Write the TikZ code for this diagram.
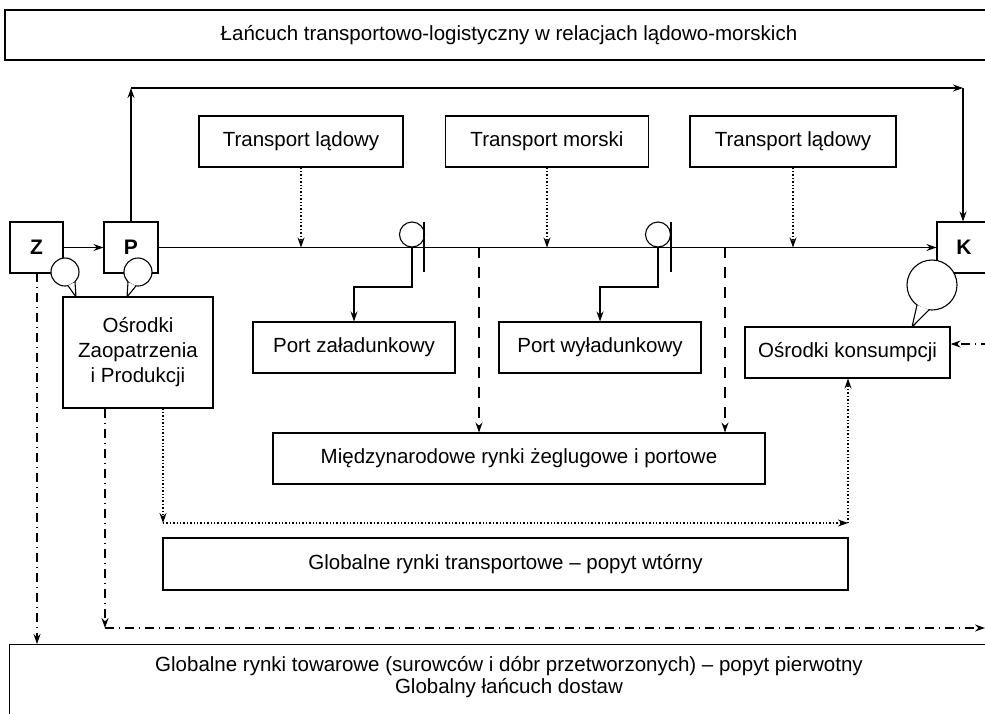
\documentclass[tikz,border=0pt]{standalone}
\usepackage{fontspec}
\setmainfont{Liberation Sans}
\usetikzlibrary{arrows.meta}
\begin{document}
\begin{tikzpicture}[x=1pt,y=-1pt,
  lw/.style={line width=1.1pt},
  box/.style={draw,lw,inner sep=0pt,align=center,font=\fontsize{20.5}{25}\selectfont},
  lbox/.style={box,font=\fontsize{21}{24}\selectfont\bfseries},
  arr/.style={lw,-{Stealth[length=10pt,width=7pt]}},
  dotl/.style={lw,dash pattern=on 1.4pt off 2pt},
  dashl/.style={lw,dash pattern=on 11pt off 9pt},
  ddot/.style={lw,dash pattern=on 9pt off 5pt on 1pt off 5pt},
  bub/.style={draw,lw,fill=white}]
\useasboundingbox (0,0) rectangle (985,713);
\clip (0,0) rectangle (985,713);
% title box
\node[box,minimum width=1008pt,minimum height=50pt] (title) at (509,35) {Łańcuch transportowo-logistyczny w relacjach lądowo-morskich};
% Z P K
\node[lbox,minimum width=53pt,minimum height=51pt] (Z) at (36.5,247.5) {Z};
\node[lbox,minimum width=54pt,minimum height=51pt] (P) at (131,247.5) {P};
\node[lbox,minimum width=54pt,minimum height=51pt] (K) at (964,247.5) {K};
% transport boxes
\node[box,minimum width=204pt,minimum height=51pt] (tl1) at (301,141.5) {Transport lądowy};
\node[box,minimum width=203pt,minimum height=51pt] (tm) at (547,141.5) {Transport morski};
\node[box,minimum width=206pt,minimum height=51pt] (tl2) at (793,141.5) {Transport lądowy};
% other boxes
\node[box,minimum width=150pt,minimum height=111pt] (oz) at (138,352.5) {Ośrodki\\Zaopatrzenia\\i Produkcji};
\node[box,minimum width=202pt,minimum height=51pt] (pz) at (354,347.5) {Port załadunkowy};
\node[box,minimum width=202pt,minimum height=51pt] (pw) at (600,347.5) {Port wyładunkowy};
\node[box,minimum width=205pt,minimum height=51pt] (ok) at (847.5,352.5) {Ośrodki konsumpcji};
\node[box,minimum width=492pt,minimum height=51pt] (mr) at (519,458.5) {Międzynarodowe rynki żeglugowe i portowe};
\node[box,minimum width=685pt,minimum height=52pt] (grt) at (505.5,564) {Globalne rynki transportowe -- popyt wtórny};
\node[draw,lw,minimum width=1000pt,minimum height=120pt,anchor=north west] (gb) at (9,644) {};
\node[font=\fontsize{20.5}{22}\selectfont,align=center,inner sep=0pt] (gbt) at (509,677) {Globalne rynki towarowe (surowców i dóbr przetworzonych) -- popyt pierwotny\\Globalny łańcuch dostaw};
% main flows
\draw[arr] (Z) -- (P);
\draw[arr] (P.east) -- (K.west);
\coordinate (c1) at (131,88);
\coordinate (c2) at (963,88);
\draw[arr] (P.north) -- (c1);
\draw[arr] (c1) -- (c2);
\draw[arr] (c2) -- (c2 |- K.north);
% transport dotted arrows
\draw[arr,dotl] (tl1.south) -- (tl1.south |- P.east);
\draw[arr,dotl] (tm.south) -- (tm.south |- P.east);
\draw[arr,dotl] (tl2.south) -- (tl2.south |- P.east);
% ports
\coordinate (pc1) at (412,247);
\coordinate (pc2) at (658,247);
\draw[bub] (412,234.5) circle (12.5pt);
\draw[lw] (424,222) -- (424,272);
\draw[bub] (658,234.5) circle (12.5pt);
\draw[lw] (671,222) -- (671,272);
\draw[arr] (pc1) -- (412,287) -- (pz.north |- 0,287) -- (pz.north);
\draw[arr] (pc2) -- (658,287) -- (pw.north |- 0,287) -- (pw.north);
% dashed to MR
\coordinate (d1) at (479,247);
\coordinate (d2) at (725,247);
\draw[arr,dashl] (d1) -- (d1 |- mr.north);
\draw[arr,dashl] (d2) -- (d2 |- mr.north);
% dotted path
\coordinate (e1) at (163,523);
\coordinate (e2) at (848,523);
\draw[arr,dotl] (e1 |- oz.south) -- (e1);
\draw[arr,dotl] (e1) -- (e2);
\draw[arr,dotl] (e2) -- (e2 |- ok.south);
% dash-dot paths
\coordinate (f1) at (105,628);
\coordinate (f2) at (985,628);
\draw[arr,ddot] (f1 |- oz.south) -- (f1);
\draw[arr,ddot] (f1) -- (f2);
\draw[arr,ddot] (37,273) -- (37,644);
\coordinate (g1) at (990,344);
\draw[arr,ddot] (g1) -- (g1 -| ok.east);
% bubbles
\draw[bub] (65,272) circle (14pt);
\fill[white] (68,285.7) -- (76,297) -- (75,282) -- cycle;
\draw[lw,line join=round] (68,285.7) -- (76,297) -- (75,282);
\draw[bub] (138,272) circle (14pt);
\fill[white] (128,282) -- (127,297) -- (136,285.9) -- cycle;
\draw[lw,line join=round] (128,282) -- (127,297) -- (136,285.9);
\draw[bub] (932,285) circle (25pt);
\fill[white] (917,305) -- (912,327) -- (929,309.8) -- cycle;
\draw[lw,line join=round] (917,305) -- (912,327) -- (929,309.8);
\end{tikzpicture}
\end{document}
